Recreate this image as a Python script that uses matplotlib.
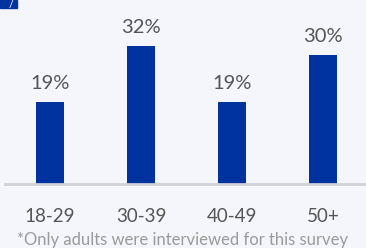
import matplotlib.pyplot as plt
from matplotlib.patches import Rectangle

# Data
age_groups = ['18-29', '30-39', '40-49', '50+']
shares = [19, 32, 19, 30]
footnote = '*Only adults were interviewed for this survey'

bg = '#F4F6FB'
bar_color = '#0033A0'
text_color = '#555555'

plt.rcParams['font.family'] = ['Lato', 'DejaVu Sans']

fig = plt.figure(figsize=(3.66, 2.48), dpi=100, facecolor=bg)
ax = fig.add_axes([0, 64 / 248, 1, 184 / 248])
ax.set_facecolor(bg)

x = list(range(len(age_groups)))
ax.bar(x, shares, width=0.308, color=bar_color)
ax.set_xlim(-0.549, 3.473)
ax.set_ylim(0, 184 / 4.3)

for xi, v in zip(x, shares):
    ax.annotate(f'{v}%', (xi, v), xytext=(0, 7.5), textcoords='offset points',
                ha='center', va='bottom', fontsize=14.5, color=text_color)

ax.axhline(0, xmin=5 / 366, xmax=1, color='#cfd1d6', lw=2, clip_on=False)

ax.set_xticks(x)
ax.set_xticklabels(age_groups, fontsize=13.5, color=text_color)
ax.tick_params(axis='x', length=0, pad=17.5)
ax.set_yticks([])
for s in ax.spines.values():
    s.set_visible(False)

fig.text(183 / 366, 1 - 240 / 248, footnote, ha='center', va='center',
         fontsize=12, color='#9a9a9a')

# cropped header badge in the corner
fig.patches.append(Rectangle((0, 1 - 8 / 248), 17 / 366, 8 / 248,
                             transform=fig.transFigure, color=bar_color))
fig.text(11 / 366, 1 - 4 / 248, '/', color='white', fontsize=8,
         ha='center', va='center')

fig.savefig('out.png', dpi=100, facecolor=bg)
